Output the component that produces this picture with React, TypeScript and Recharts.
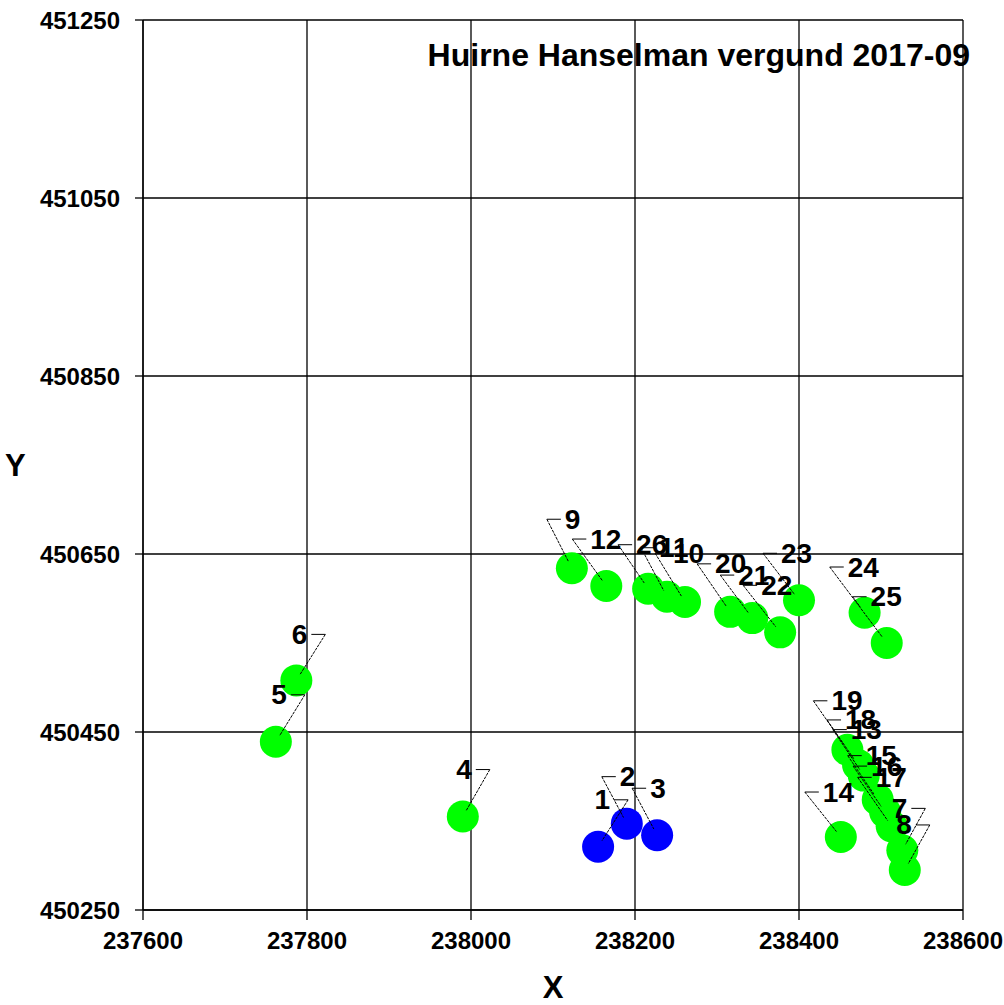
import React from 'react';
import { ScatterChart, Scatter, XAxis, YAxis, CartesianGrid } from 'recharts';

// measuring points (X/Y in RD coordinates)
const pointLabels = ['1', '2', '3', '4', '5', '6', '7', '8', '9', '10', '11', '12', '13', '14', '15', '16', '17', '18', '19', '20', '21', '22', '23', '24', '25', '26'];
const xValues = [238155, 238190, 238227, 237990, 237762, 237787, 238526, 238529, 238123, 238261, 238239, 238165, 238479, 238451, 238496, 238505, 238513, 238472, 238459, 238316, 238343, 238377, 238400, 238507, 238480, 238216];
const yValues = [450321, 450347, 450334, 450355, 450439, 450508, 450317, 450295, 450634, 450596, 450602, 450614, 450401, 450332, 450374, 450360, 450344, 450413, 450430, 450585, 450578, 450562, 450598, 450550, 450584, 450611];
const pointGroups = ['blue', 'blue', 'blue', 'green', 'green', 'green', 'green', 'green', 'green', 'green', 'green', 'green', 'green', 'green', 'green', 'green', 'green', 'green', 'green', 'green', 'green', 'green', 'green', 'green', 'green', 'green'];

const xTicks = [237600, 237800, 238000, 238200, 238400, 238600];
const yTicks = [450250, 450450, 450650, 450850, 451050, 451250];

// where each label sits relative to its marker (pixels), and which side the text is on
const labelSide = ['l', 'r', 'r', 'l', 'l', 'l', 'l', 'l', 'r', 'r', 'r', 'r', 'r', 'r', 'r', 'r', 'r', 'r', 'r', 'r', 'r', 'r', 'r', 'r', 'r', 'r'];
const labelDx = [30, -25, -25, 27, 29, 29, 23, 25, -25, -30, -26, -34, -31, -36, -30, -32, -34, -31, -34, -33, -32, -37, -36, -57, -12, -30];
const labelDy = [-47, -47, -47, -47, -47, -46, -42, -45, -49, -49, -49, -47, -46, -45, -44, -46, -49, -45, -49, -48, -43, -47, -47, -76, -16, -44];

const FONT = '"Liberation Sans", Arial, sans-serif';

const points = pointLabels.map((label, i) => ({
  label,
  x: xValues[i],
  y: yValues[i],
  group: pointGroups[i],
  side: labelSide[i],
  dx: labelDx[i],
  dy: labelDy[i],
}));

const bluePoints = points.filter((p) => p.group === 'blue');
const greenPoints = points.filter((p) => p.group === 'green');

const Dot = (color: string) => (props: any) => {
  const { cx, cy } = props;
  if (cx == null || cy == null) return null;
  return <circle cx={cx} cy={cy} r={16} fill={color} />;
};

function LeaderLabel(props: any) {
  const { cx, cy, payload } = props;
  if (cx == null || cy == null) return null;
  const ax = cx + payload.dx;
  const ay = cy + payload.dy;
  const len = Math.hypot(cx - ax, cy - ay) || 1;
  const ex = cx - ((cx - ax) * 7) / len;
  const ey = cy - ((cy - ay) * 7) / len;
  const right = payload.side === 'r';
  const tickEnd = right ? ax + 14 : ax - 14;
  return (
    <g>
      <line x1={ax} y1={ay} x2={ex} y2={ey} stroke="#000" strokeWidth={1} strokeDasharray="3 1" />
      <line x1={ax} y1={ay} x2={tickEnd} y2={ay} stroke="#000" strokeWidth={1} />
      {payload.label && (
        <text
          x={right ? ax + 18 : ax - 18}
          y={ay}
          textAnchor={right ? 'start' : 'end'}
          dominantBaseline="central"
          fontFamily={FONT}
          fontWeight="bold"
          fontSize={28}
          fill="#000"
        >
          {payload.label}
        </text>
      )}
    </g>
  );
}

export default function App() {
  const tickStyle = { fill: '#000', fontSize: 24, fontWeight: 'bold', fontFamily: FONT };
  return (
    <div style={{ position: 'absolute', left: 0, top: 0, width: 1004, height: 1005, background: '#fff' }}>
      <ScatterChart width={1004} height={1005} margin={{ top: 20, right: 41, bottom: 0, left: 0 }}>
        <CartesianGrid stroke="#000" strokeWidth={1.3} />
        <XAxis
          type="number"
          dataKey="x"
          domain={[237600, 238600]}
          ticks={xTicks}
          allowDataOverflow
          height={95}
          tickSize={10}
          tickMargin={12}
          stroke="#000"
          strokeWidth={1.3}
          tick={tickStyle}
          label={{ value: 'X', position: 'insideBottom', offset: 7, fill: '#000', fontSize: 31, fontWeight: 'bold', fontFamily: FONT }}
        />
        <YAxis
          type="number"
          dataKey="y"
          domain={[450250, 451250]}
          ticks={yTicks}
          allowDataOverflow
          width={143}
          tickSize={8}
          tickMargin={15}
          stroke="#000"
          strokeWidth={1.3}
          tick={tickStyle}
          label={{ value: 'Y', position: 'insideLeft', offset: 5, fill: '#000', fontSize: 31, fontWeight: 'bold', fontFamily: FONT }}
        />
        <Scatter data={bluePoints} shape={Dot('#0000ff')} isAnimationActive={false} />
        <Scatter data={greenPoints} shape={Dot('#00ff00')} isAnimationActive={false} />
        <Scatter data={points} shape={LeaderLabel} isAnimationActive={false} />
      </ScatterChart>
      <div
        style={{
          position: 'absolute',
          right: 34,
          top: 39,
          fontFamily: FONT,
          fontWeight: 'bold',
          fontSize: 32,
          lineHeight: '32px',
          color: '#000',
          whiteSpace: 'nowrap',
        }}
      >
        Huirne Hanselman vergund 2017-09
      </div>
    </div>
  );
}
